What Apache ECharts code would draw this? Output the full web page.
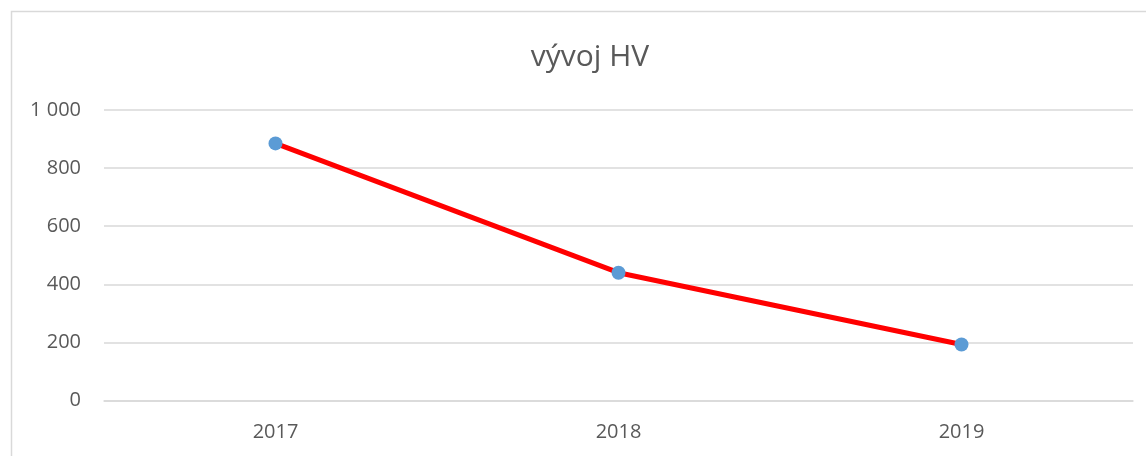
<!DOCTYPE html>
<html>
<head>
<meta charset="utf-8">
<script src="https://cdn.jsdelivr.net/npm/echarts@6/dist/echarts.min.js"></script>
<style>
  html, body { margin: 0; padding: 0; background: #fff; }
  #chart { width: 1146px; height: 456px; }
</style>
</head>
<body>
<div id="chart"></div>
<script>
var years = ['2017', '2018', '2019'];
var hv = [885, 440, 193];

function separator(numb) {
    return numb.toString().replace(/\B(?=(\d{3})+(?!\d))/g, ' ');
}

var font = 'Open Sans';
var myChart = echarts.init(document.getElementById('chart'));
var option = {
    backgroundColor: '#fff',
    animation: false,
    title: {
        text: 'vývoj HV',
        left: 585,
        top: 37,
        textAlign: 'center',
        textStyle: { fontFamily: font, fontSize: 30, fontWeight: 'normal', color: '#595959' }
    },
    graphic: [{
        type: 'rect',
        shape: { x: 11.5, y: 11.5, width: 1200, height: 500 },
        style: { fill: 'none', stroke: '#d9d9d9', lineWidth: 1.5 },
        silent: true
    }],
    grid: { left: 104, right: 13, top: 110, bottom: 55.5 },
    xAxis: {
        type: 'category',
        data: years,
        boundaryGap: true,
        axisLine: { lineStyle: { color: '#d9d9d9', width: 1.5 } },
        axisTick: { show: false },
        axisLabel: { fontFamily: font, fontSize: 20, color: '#595959', margin: 22 }
    },
    yAxis: {
        type: 'value',
        min: 0,
        max: 1000,
        interval: 200,
        axisLine: { show: false },
        axisTick: { show: false },
        splitLine: { lineStyle: { color: '#d9d9d9', width: 1.5 } },
        axisLabel: {
            fontFamily: font, fontSize: 20, color: '#595959', margin: 23,
            formatter: function (v) { return separator(v); }
        }
    },
    series: [{
        type: 'line',
        data: hv,
        symbol: 'circle',
        symbolSize: 14,
        lineStyle: { color: '#ff0000', width: 5 },
        itemStyle: { color: '#5b9bd5' },
        z: 3
    }]
};
myChart.setOption(option);
</script>
</body>
</html>
